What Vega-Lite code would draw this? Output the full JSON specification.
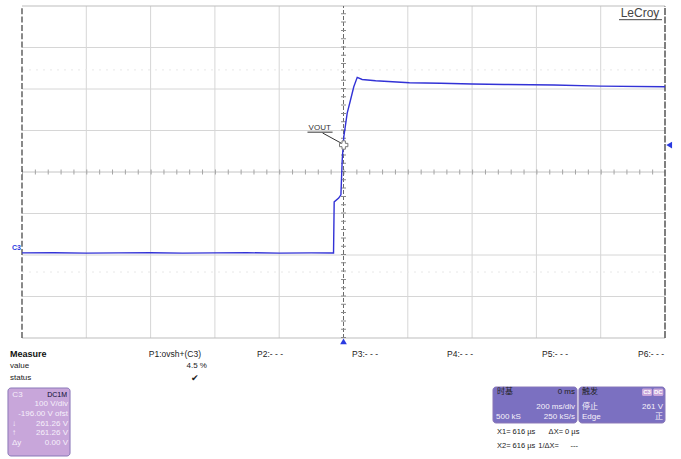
{
  "$schema": "https://vega.github.io/schema/vega-lite/v6.json",
  "width": 681,
  "height": 459,
  "padding": 0,
  "autosize": {"type": "none"},
  "background": "white",
  "config": {"view": {"stroke": null}, "font": "Liberation Sans, Noto Sans CJK SC, sans-serif"},
  "resolve": {"scale": {"x": "independent", "y": "independent", "color": "independent"}},
  "layer": [
    {
      "layer": [
        {
          "data": {"values": [{"t": -800}, {"t": -600}, {"t": -400}, {"t": -200}, {"t": 200}, {"t": 400}, {"t": 600}, {"t": 800}]},
          "mark": {"type": "rule", "color": "#d6d6d6", "strokeWidth": 1},
          "encoding": {
            "x": {"field": "t", "type": "quantitative", "scale": {"domain": [-1000, 1000], "range": [22, 665], "nice": false, "zero": false}, "axis": null},
            "y": {"datum": -204, "type": "quantitative", "scale": {"domain": [-204, 596], "range": [338, 6], "nice": false, "zero": false}, "axis": null},
            "y2": {"datum": 596}
          }
        },
        {
          "data": {"values": [{"v": -104}, {"v": -4}, {"v": 96}, {"v": 296}, {"v": 396}, {"v": 496}]},
          "mark": {"type": "rule", "color": "#d6d6d6", "strokeWidth": 1},
          "encoding": {
            "y": {"field": "v", "type": "quantitative", "scale": {"domain": [-204, 596], "range": [338, 6], "nice": false, "zero": false}, "axis": null},
            "x": {"datum": -1000, "type": "quantitative", "scale": {"domain": [-1000, 1000], "range": [22, 665], "nice": false, "zero": false}, "axis": null},
            "x2": {"datum": 1000}
          }
        },
        {
          "data": {"values": [{"v": 596}, {"v": -204}]},
          "mark": {"type": "rule", "color": "#bdbdbd", "strokeWidth": 1.2},
          "encoding": {
            "y": {"field": "v", "type": "quantitative", "scale": {"domain": [-204, 596], "range": [338, 6], "nice": false, "zero": false}, "axis": null},
            "x": {"datum": -1000, "type": "quantitative", "scale": {"domain": [-1000, 1000], "range": [22, 665], "nice": false, "zero": false}, "axis": null},
            "x2": {"datum": 1000}
          }
        },
        {
          "data": {"values": [{"v": 442}, {"v": -45}]},
          "mark": {"type": "rule", "color": "#e8e8e8", "strokeWidth": 1, "strokeDash": [2, 5]},
          "encoding": {
            "y": {"field": "v", "type": "quantitative", "scale": {"domain": [-204, 596], "range": [338, 6], "nice": false, "zero": false}, "axis": null},
            "x": {"datum": -1000, "type": "quantitative", "scale": {"domain": [-1000, 1000], "range": [22, 665], "nice": false, "zero": false}, "axis": null},
            "x2": {"datum": 1000}
          }
        },
        {
          "data": {"values": [{}]},
          "mark": {"type": "rule", "color": "#c4c4c4", "strokeWidth": 1},
          "encoding": {
            "y": {"datum": 196, "type": "quantitative", "scale": {"domain": [-204, 596], "range": [338, 6], "nice": false, "zero": false}, "axis": null},
            "x": {"datum": -1000, "type": "quantitative", "scale": {"domain": [-1000, 1000], "range": [22, 665], "nice": false, "zero": false}, "axis": null},
            "x2": {"datum": 1000}
          }
        },
        {
          "data": {"values": [{}]},
          "mark": {"type": "rule", "color": "#a4a4a4", "strokeWidth": 5, "strokeDash": [1, 11.86]},
          "encoding": {
            "y": {"datum": 196, "type": "quantitative", "scale": {"domain": [-204, 596], "range": [338, 6], "nice": false, "zero": false}, "axis": null},
            "x": {"datum": -1000, "type": "quantitative", "scale": {"domain": [-1000, 1000], "range": [22, 665], "nice": false, "zero": false}, "axis": null},
            "x2": {"datum": 1000}
          }
        },
        {
          "data": {"values": [{}]},
          "mark": {"type": "rule", "color": "#6a6a6a", "strokeWidth": 1, "strokeDash": [4, 2]},
          "encoding": {
            "x": {"datum": 0, "type": "quantitative", "scale": {"domain": [-1000, 1000], "range": [22, 665], "nice": false, "zero": false}, "axis": null},
            "y": {"datum": -204, "type": "quantitative", "scale": {"domain": [-204, 596], "range": [338, 6], "nice": false, "zero": false}, "axis": null},
            "y2": {"datum": 596}
          }
        },
        {
          "data": {"values": [{}]},
          "mark": {"type": "rule", "color": "#8a8a8a", "strokeWidth": 5, "strokeDash": [1, 7.3]},
          "encoding": {
            "x": {"datum": 0, "type": "quantitative", "scale": {"domain": [-1000, 1000], "range": [22, 665], "nice": false, "zero": false}, "axis": null},
            "y": {"datum": -204, "type": "quantitative", "scale": {"domain": [-204, 596], "range": [338, 6], "nice": false, "zero": false}, "axis": null},
            "y2": {"datum": 596}
          }
        },
        {
          "data": {"values": [{}]},
          "mark": {"type": "rule", "color": "#4a4a4a", "strokeWidth": 1.3, "strokeDash": [6, 2.3]},
          "encoding": {
            "x": {"datum": -1000, "type": "quantitative", "scale": {"domain": [-1000, 1000], "range": [22, 665], "nice": false, "zero": false}, "axis": null},
            "y": {"datum": -204, "type": "quantitative", "scale": {"domain": [-204, 596], "range": [338, 6], "nice": false, "zero": false}, "axis": null},
            "y2": {"datum": 596}
          }
        },
        {
          "data": {"values": [{}]},
          "mark": {"type": "rule", "color": "#555555", "strokeWidth": 1.5, "strokeDash": [7, 1.5]},
          "encoding": {
            "x": {"datum": 1000, "type": "quantitative", "scale": {"domain": [-1000, 1000], "range": [22, 665], "nice": false, "zero": false}, "axis": null},
            "y": {"datum": -204, "type": "quantitative", "scale": {"domain": [-204, 596], "range": [338, 6], "nice": false, "zero": false}, "axis": null},
            "y2": {"datum": 596}
          }
        },
        {
          "data": {"values": [
            {"t": -1000, "v": 1}, {"t": -900, "v": 1.5}, {"t": -800, "v": 0.5}, {"t": -700, "v": 1}, {"t": -600, "v": 1.5},
            {"t": -500, "v": 0.5}, {"t": -400, "v": 1}, {"t": -300, "v": 1.5}, {"t": -200, "v": 0.5}, {"t": -100, "v": 1},
            {"t": -31, "v": 1}, {"t": -29, "v": 124}, {"t": -15, "v": 133}, {"t": -8, "v": 141}, {"t": -4, "v": 225},
            {"t": 1, "v": 281}, {"t": 11.5, "v": 338}, {"t": 21.8, "v": 369.5}, {"t": 32, "v": 401.5}, {"t": 42.7, "v": 424},
            {"t": 58, "v": 419}, {"t": 100, "v": 416}, {"t": 205, "v": 411}, {"t": 302, "v": 410}, {"t": 400, "v": 408},
            {"t": 500, "v": 407}, {"t": 654, "v": 405.5}, {"t": 800, "v": 403}, {"t": 1000, "v": 401.5}
          ]},
          "mark": {"type": "line", "color": "#3232d6", "strokeWidth": 1.4},
          "encoding": {
            "x": {"field": "t", "type": "quantitative", "scale": {"domain": [-1000, 1000], "range": [22, 665], "nice": false, "zero": false}, "axis": null},
            "y": {"field": "v", "type": "quantitative", "scale": {"domain": [-204, 596], "range": [338, 6], "nice": false, "zero": false}, "axis": null}
          }
        },
        {
          "data": {"values": [{"t": 1013, "v": 261, "m": "level"}, {"t": 0, "v": -212, "m": "position"}]},
          "mark": {"type": "point", "filled": true, "color": "#2a3ae0", "size": 45, "opacity": 1},
          "encoding": {
            "x": {"field": "t", "type": "quantitative", "scale": {"domain": [-1000, 1000], "range": [22, 665], "nice": false, "zero": false}, "axis": null},
            "y": {"field": "v", "type": "quantitative", "scale": {"domain": [-204, 596], "range": [338, 6], "nice": false, "zero": false}, "axis": null},
            "shape": {"field": "m", "type": "nominal", "scale": {"domain": ["level", "position"], "range": ["triangle-left", "triangle-up"]}, "legend": null}
          }
        },
        {
          "data": {"values": [{"t": -65, "v": 290, "t2": -6, "v2": 265}, {"t": -112, "v": 292, "t2": -34, "v2": 292}]},
          "mark": {"type": "rule", "color": "#333333", "strokeWidth": 1},
          "encoding": {
            "x": {"field": "t", "type": "quantitative", "scale": {"domain": [-1000, 1000], "range": [22, 665], "nice": false, "zero": false}, "axis": null},
            "y": {"field": "v", "type": "quantitative", "scale": {"domain": [-204, 596], "range": [338, 6], "nice": false, "zero": false}, "axis": null},
            "x2": {"field": "t2"},
            "y2": {"field": "v2"}
          }
        },
        {
          "data": {"values": [{"t": 0.6, "v": 261}]},
          "mark": {"type": "point", "shape": "cross", "filled": true, "fill": "white", "stroke": "#777777", "strokeWidth": 1, "size": 70, "opacity": 1},
          "encoding": {
            "x": {"field": "t", "type": "quantitative", "scale": {"domain": [-1000, 1000], "range": [22, 665], "nice": false, "zero": false}, "axis": null},
            "y": {"field": "v", "type": "quantitative", "scale": {"domain": [-204, 596], "range": [338, 6], "nice": false, "zero": false}, "axis": null}
          }
        },
        {
          "data": {"values": [{"t": -74, "v": 302, "label": "VOUT"}]},
          "mark": {"type": "text", "fontSize": 8, "color": "#333333", "align": "center", "baseline": "middle"},
          "encoding": {
            "x": {"field": "t", "type": "quantitative", "scale": {"domain": [-1000, 1000], "range": [22, 665], "nice": false, "zero": false}, "axis": null},
            "y": {"field": "v", "type": "quantitative", "scale": {"domain": [-204, 596], "range": [338, 6], "nice": false, "zero": false}, "axis": null},
            "text": {"field": "label"}
          }
        },
        {
          "data": {"values": [{"t": -1017, "v": 14, "label": "C3"}]},
          "mark": {"type": "text", "fontSize": 7, "fontWeight": "bold", "color": "#2a3ae0", "align": "center", "baseline": "middle"},
          "encoding": {
            "x": {"field": "t", "type": "quantitative", "scale": {"domain": [-1000, 1000], "range": [22, 665], "nice": false, "zero": false}, "axis": null},
            "y": {"field": "v", "type": "quantitative", "scale": {"domain": [-204, 596], "range": [338, 6], "nice": false, "zero": false}, "axis": null},
            "text": {"field": "label"}
          }
        }
      ]
    },
    {
      "layer": [
        {
          "data": {"values": [
            {"part": "c3", "h": -0.218, "h2": 0.747, "r": 9.205, "r2": 10.843},
            {"part": "timebase", "h": 7.325, "h2": 8.631, "r": 9.181, "r2": 10.048},
            {"part": "trigger", "h": 8.662, "h2": 10.0, "r": 9.181, "r2": 10.048}
          ]},
          "mark": {"type": "rect", "cornerRadius": 3, "stroke": "#8a78b8", "strokeWidth": 1},
          "encoding": {
            "x": {"field": "h", "type": "quantitative", "scale": {"domain": [0, 10], "range": [22, 665], "nice": false, "zero": false}, "axis": null},
            "x2": {"field": "h2"},
            "y": {"field": "r", "type": "quantitative", "scale": {"domain": [0, 8], "range": [6, 338], "nice": false, "zero": false}, "axis": null},
            "y2": {"field": "r2"},
            "color": {"field": "part", "type": "nominal", "scale": {"domain": ["c3", "timebase", "trigger"], "range": ["#c8a6da", "#7b70c1", "#7b70c1"]}, "legend": null}
          }
        },
        {
          "data": {"values": [
            {"part": "c3head", "h": -0.187, "h2": 0.715, "r": 9.253, "r2": 9.470},
            {"part": "tbhead", "h": 7.34, "h2": 8.616, "r": 9.195, "r2": 9.422},
            {"part": "trhead", "h": 8.677, "h2": 9.985, "r": 9.195, "r2": 9.422},
            {"part": "icon", "h": 9.642, "h2": 9.80, "r": 9.215, "r2": 9.398},
            {"part": "icon", "h": 9.815, "h2": 9.975, "r": 9.215, "r2": 9.398}
          ]},
          "mark": {"type": "rect", "cornerRadius": 1.5},
          "encoding": {
            "x": {"field": "h", "type": "quantitative", "scale": {"domain": [0, 10], "range": [22, 665], "nice": false, "zero": false}, "axis": null},
            "x2": {"field": "h2"},
            "y": {"field": "r", "type": "quantitative", "scale": {"domain": [0, 8], "range": [6, 338], "nice": false, "zero": false}, "axis": null},
            "y2": {"field": "r2"},
            "color": {"field": "part", "type": "nominal", "scale": {"domain": ["c3head", "tbhead", "trhead", "icon"], "range": ["#1f36c9", "#d2d2d2", "#d2d2d2", "#222222"]}, "legend": null}
          }
        },
        {
          "data": {"values": [{"h": -0.187, "r": 8.386, "text": "Measure"}]},
          "mark": {"type": "text", "fontSize": 9, "fontWeight": "bold", "color": "#111111", "align": "left", "baseline": "middle"},
          "encoding": {
            "x": {"field": "h", "type": "quantitative", "scale": {"domain": [0, 10], "range": [22, 665], "nice": false, "zero": false}, "axis": null},
            "y": {"field": "r", "type": "quantitative", "scale": {"domain": [0, 8], "range": [6, 338], "nice": false, "zero": false}, "axis": null},
            "text": {"field": "text"}
          }
        },
        {
          "data": {"values": [
            {"h": -0.187, "r": 8.675, "text": "value"},
            {"h": -0.187, "r": 8.964, "text": "status"},
            {"h": 7.387, "r": 9.305, "text": "时基"},
            {"h": 8.709, "r": 9.305, "text": "触发"}
          ]},
          "mark": {"type": "text", "fontSize": 8, "color": "#222222", "align": "left", "baseline": "middle"},
          "encoding": {
            "x": {"field": "h", "type": "quantitative", "scale": {"domain": [0, 10], "range": [22, 665], "nice": false, "zero": false}, "axis": null},
            "y": {"field": "r", "type": "quantitative", "scale": {"domain": [0, 8], "range": [6, 338], "nice": false, "zero": false}, "axis": null},
            "text": {"field": "text"}
          }
        },
        {
          "data": {"values": [
            {"h": 7.387, "r": 10.265, "text": "X1= 616 µs"},
            {"h": 8.19, "r": 10.265, "text": "ΔX= 0 µs"},
            {"h": 7.387, "r": 10.602, "text": "X2= 616 µs"},
            {"h": 8.03, "r": 10.602, "text": "1/ΔX="},
            {"h": 8.53, "r": 10.602, "text": "---"}
          ]},
          "mark": {"type": "text", "fontSize": 7.5, "color": "#222222", "align": "left", "baseline": "middle"},
          "encoding": {
            "x": {"field": "h", "type": "quantitative", "scale": {"domain": [0, 10], "range": [22, 665], "nice": false, "zero": false}, "axis": null},
            "y": {"field": "r", "type": "quantitative", "scale": {"domain": [0, 8], "range": [6, 338], "nice": false, "zero": false}, "axis": null},
            "text": {"field": "text"}
          }
        },
        {
          "data": {"values": [
            {"h": 2.379, "r": 8.386, "text": "P1:ovsh+(C3)"},
            {"h": 3.857, "r": 8.386, "text": "P2:- - -"},
            {"h": 5.334, "r": 8.386, "text": "P3:- - -"},
            {"h": 6.812, "r": 8.386, "text": "P4:- - -"},
            {"h": 8.289, "r": 8.386, "text": "P5:- - -"},
            {"h": 9.782, "r": 8.386, "text": "P6:- - -"},
            {"h": 2.69, "r": 8.964, "text": "✔"}
          ]},
          "mark": {"type": "text", "fontSize": 8.5, "color": "#222222", "align": "center", "baseline": "middle"},
          "encoding": {
            "x": {"field": "h", "type": "quantitative", "scale": {"domain": [0, 10], "range": [22, 665], "nice": false, "zero": false}, "axis": null},
            "y": {"field": "r", "type": "quantitative", "scale": {"domain": [0, 8], "range": [6, 338], "nice": false, "zero": false}, "axis": null},
            "text": {"field": "text"}
          }
        },
        {
          "data": {"values": [
            {"h": 2.877, "r": 8.675, "text": "4.5 %"},
            {"h": 8.600, "r": 9.305, "text": "0 ms"}
          ]},
          "mark": {"type": "text", "fontSize": 8, "color": "#222222", "align": "right", "baseline": "middle"},
          "encoding": {
            "x": {"field": "h", "type": "quantitative", "scale": {"domain": [0, 10], "range": [22, 665], "nice": false, "zero": false}, "axis": null},
            "y": {"field": "r", "type": "quantitative", "scale": {"domain": [0, 8], "range": [6, 338], "nice": false, "zero": false}, "axis": null},
            "text": {"field": "text"}
          }
        },
        {
          "data": {"values": [
            {"h": 0.715, "r": 9.590, "text": "100 V/div"},
            {"h": 0.715, "r": 9.831, "text": "-196.00 V ofst"},
            {"h": 0.715, "r": 10.072, "text": "261.26 V"},
            {"h": 0.715, "r": 10.289, "text": "261.26 V"},
            {"h": 0.715, "r": 10.530, "text": "0.00 V"},
            {"h": 8.600, "r": 9.663, "text": "200 ms/div"},
            {"h": 8.600, "r": 9.904, "text": "250 kS/s"},
            {"h": 9.969, "r": 9.663, "text": "261 V"},
            {"h": 9.969, "r": 9.904, "text": "正"}
          ]},
          "mark": {"type": "text", "fontSize": 8, "color": "#f6f0fa", "align": "right", "baseline": "middle"},
          "encoding": {
            "x": {"field": "h", "type": "quantitative", "scale": {"domain": [0, 10], "range": [22, 665], "nice": false, "zero": false}, "axis": null},
            "y": {"field": "r", "type": "quantitative", "scale": {"domain": [0, 8], "range": [6, 338], "nice": false, "zero": false}, "axis": null},
            "text": {"field": "text"}
          }
        },
        {
          "data": {"values": [
            {"h": -0.156, "r": 10.072, "text": "↓"},
            {"h": -0.156, "r": 10.289, "text": "↑"},
            {"h": -0.156, "r": 10.530, "text": "Δy"},
            {"h": 7.372, "r": 9.904, "text": "500 kS"},
            {"h": 8.709, "r": 9.663, "text": "停止"},
            {"h": 8.709, "r": 9.904, "text": "Edge"},
            {"h": -0.15, "r": 9.362, "text": "C3"}
          ]},
          "mark": {"type": "text", "fontSize": 8, "color": "#f6f0fa", "align": "left", "baseline": "middle"},
          "encoding": {
            "x": {"field": "h", "type": "quantitative", "scale": {"domain": [0, 10], "range": [22, 665], "nice": false, "zero": false}, "axis": null},
            "y": {"field": "r", "type": "quantitative", "scale": {"domain": [0, 8], "range": [6, 338], "nice": false, "zero": false}, "axis": null},
            "text": {"field": "text"}
          }
        },
        {
          "data": {"values": [
            {"h": 0.70, "r": 9.362, "text": "DC1M"}
          ]},
          "mark": {"type": "text", "fontSize": 7, "color": "#0a0a30", "align": "right", "baseline": "middle"},
          "encoding": {
            "x": {"field": "h", "type": "quantitative", "scale": {"domain": [0, 10], "range": [22, 665], "nice": false, "zero": false}, "axis": null},
            "y": {"field": "r", "type": "quantitative", "scale": {"domain": [0, 8], "range": [6, 338], "nice": false, "zero": false}, "axis": null},
            "text": {"field": "text"}
          }
        },
        {
          "data": {"values": [
            {"h": 9.721, "r": 9.307, "text": "C3"},
            {"h": 9.895, "r": 9.307, "text": "DC"}
          ]},
          "mark": {"type": "text", "fontSize": 6, "fontWeight": "bold", "color": "#ffffff", "align": "center", "baseline": "middle"},
          "encoding": {
            "x": {"field": "h", "type": "quantitative", "scale": {"domain": [0, 10], "range": [22, 665], "nice": false, "zero": false}, "axis": null},
            "y": {"field": "r", "type": "quantitative", "scale": {"domain": [0, 8], "range": [6, 338], "nice": false, "zero": false}, "axis": null},
            "text": {"field": "text"}
          }
        },
        {
          "data": {"values": [{"h": 9.611, "r": 0.18, "text": "LeCroy"}]},
          "mark": {"type": "text", "fontSize": 12, "color": "#444444", "align": "center", "baseline": "middle"},
          "encoding": {
            "x": {"field": "h", "type": "quantitative", "scale": {"domain": [0, 10], "range": [22, 665], "nice": false, "zero": false}, "axis": null},
            "y": {"field": "r", "type": "quantitative", "scale": {"domain": [0, 8], "range": [6, 338], "nice": false, "zero": false}, "axis": null},
            "text": {"field": "text"}
          }
        },
        {
          "data": {"values": [{"h": 9.285, "h2": 9.953, "r": 0.33}]},
          "mark": {"type": "rule", "color": "#444444", "strokeWidth": 1},
          "encoding": {
            "x": {"field": "h", "type": "quantitative", "scale": {"domain": [0, 10], "range": [22, 665], "nice": false, "zero": false}, "axis": null},
            "x2": {"field": "h2"},
            "y": {"field": "r", "type": "quantitative", "scale": {"domain": [0, 8], "range": [6, 338], "nice": false, "zero": false}, "axis": null}
          }
        }
      ]
    }
  ]
}
